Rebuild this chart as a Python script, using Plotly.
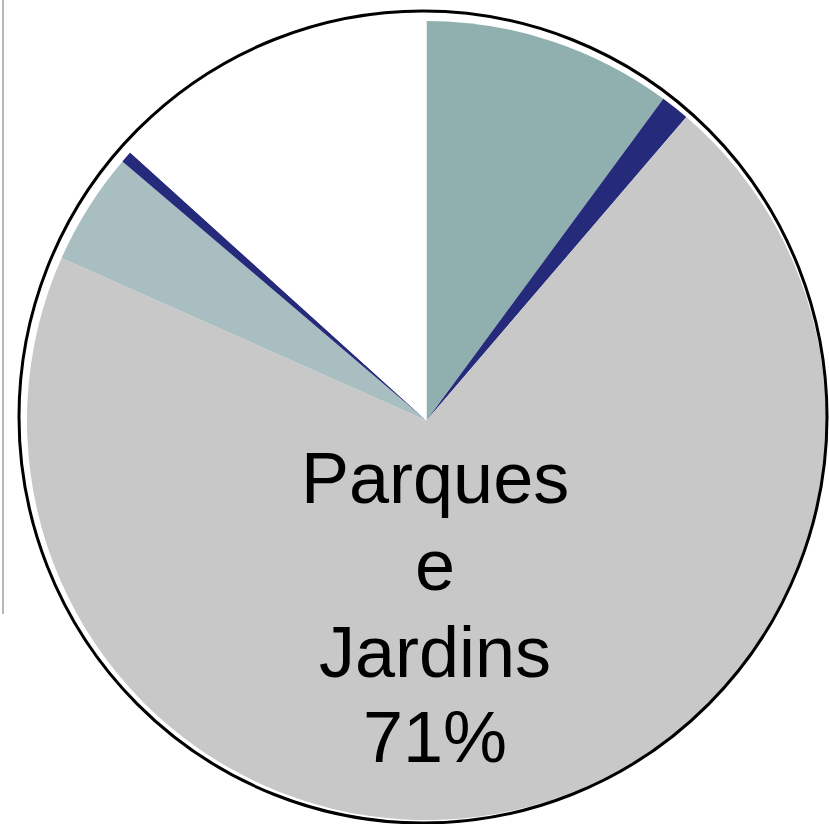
import plotly.graph_objects as go

W, H = 829, 824

# Data (percent shares, clockwise from 12 o'clock)
categories = ["Cat A", "Cat B", "Parques e Jardins", "Cat D", "Cat E", "Cat F"]
values = [10.1, 1.17, 70.4, 4.56, 0.47, 13.3]
colors = ["#90b0b0", "#262a7a", "#c8c8c8", "#a9bec0", "#262a7a", "#ffffff"]
label_lines = ["Parques", "e", "Jardins", "71%"]

def px_x(p):
    return p / W

def px_y(p):
    return 1 - p / H

fig = go.Figure(
    go.Pie(
        labels=categories,
        values=values,
        sort=False,
        direction="clockwise",
        rotation=0,
        marker=dict(colors=colors, line=dict(width=0)),
        textinfo="none",
        hoverinfo="label+percent",
        showlegend=False,
        domain=dict(x=[px_x(27), px_x(826)], y=[px_y(820), px_y(21)]),
    )
)

# label lines
baselines = [502, 589, 676, 761]
size = 72
annotations = []
for txt, b in zip(label_lines, baselines):
    annotations.append(
        dict(
            text=txt,
            x=px_x(435),
            y=px_y(b - 0.33 * size),
            xref="paper",
            yref="paper",
            xanchor="center",
            yanchor="middle",
            showarrow=False,
            font=dict(family="Arial, Liberation Sans, sans-serif", size=size, color="#000000"),
        )
    )

shapes = [
    dict(
        type="circle",
        xref="paper",
        yref="paper",
        x0=px_x(19),
        x1=px_x(827),
        y0=px_y(823),
        y1=px_y(11),
        line=dict(color="#000000", width=3),
        layer="above",
    ),
    dict(
        type="line",
        xref="paper",
        yref="paper",
        x0=px_x(3),
        x1=px_x(3),
        y0=px_y(0),
        y1=px_y(614),
        line=dict(color="#b8b8b8", width=2),
    ),
]

fig.update_layout(
    width=W,
    height=H,
    margin=dict(l=0, r=0, t=0, b=0),
    paper_bgcolor="#ffffff",
    plot_bgcolor="#ffffff",
    annotations=annotations,
    shapes=shapes,
)

fig.write_html(
    "out.html",
    config={"displayModeBar": False},
    post_script="document.body.style.margin='0';document.body.style.padding='0';",
)
